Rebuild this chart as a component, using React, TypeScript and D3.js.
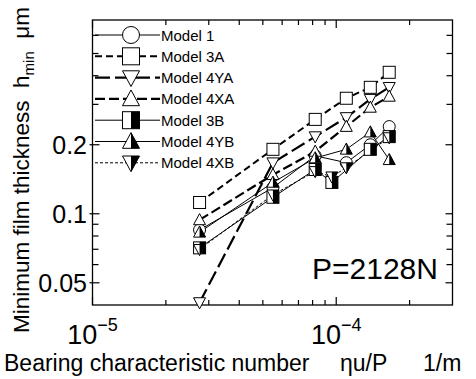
import React, { useRef, useEffect } from "react";
import * as d3 from "d3";

// bearing characteristic number columns (1/m)
const c1 = 2.75e-5;
const c2 = 5.5e-5;
const c3 = 8.2e-5;
const c4a = 9.6e-5;
const c4b = 1.1e-4;
const c5 = 1.38e-4;
const c6 = 1.65e-4;

const model1X = [c1, c2, c3, c4b, c5, c6];
const model1Y = [0.085, 0.13, 0.179, 0.167, 0.2, 0.24];

const model3AX = [c1, c2, c3, c4b, c5, c6];
const model3AY = [0.112, 0.191, 0.258, 0.319, 0.356, 0.414];

const model4YAX = [c1, c2, c3, c4b, c5, c6];
const model4YAY = [0.041, 0.167, 0.217, 0.263, 0.316, 0.356];

const model4XAX = [c1, c2, c3, c4b, c5, c6];
const model4XAY = [0.094, 0.148, 0.187, 0.24, 0.291, 0.325];

const model3BX = [c1, c2, c3, c4a, c5, c6];
const model3BY = [0.071, 0.118, 0.156, 0.137, 0.191, 0.217];

const model4YBX = [c1, c2, c3, c4b, c5, c6];
const model4YBY = [0.083, 0.137, 0.175, 0.191, 0.227, 0.172];

const model4XBX = [c1, c2, c3, c4a, c4b, c6];
const model4XBY = [0.07, 0.121, 0.153, 0.145, 0.159, 0.215];

const yMajorTicks = [0.05, 0.1, 0.2];
const yMinorTicks = [0.06, 0.07, 0.08, 0.09, 0.3, 0.4, 0.5, 0.6];
const xMajorTicks = [1e-5, 1e-4];
const xMajorLabels = ["\u22125", "\u22124"];
const xMinorTicks = [2e-5, 3e-5, 4e-5, 5e-5, 6e-5, 7e-5, 8e-5, 9e-5, 2e-4];

type Marker = "circle" | "square" | "tdown" | "tup" | "squareHalf" | "tupHalf" | "tdownHalf";

const series: { name: string; xs: number[]; ys: number[]; marker: Marker; width: number; dash: string }[] = [
  { name: "Model 1", xs: model1X, ys: model1Y, marker: "circle", width: 1, dash: "" },
  { name: "Model 3A", xs: model3AX, ys: model3AY, marker: "square", width: 2, dash: "7,4" },
  { name: "Model 4YA", xs: model4YAX, ys: model4YAY, marker: "tdown", width: 2.2, dash: "15,5" },
  { name: "Model 4XA", xs: model4XAX, ys: model4XAY, marker: "tup", width: 2.2, dash: "10,4" },
  { name: "Model 3B", xs: model3BX, ys: model3BY, marker: "squareHalf", width: 1, dash: "" },
  { name: "Model 4YB", xs: model4YBX, ys: model4YBY, marker: "tupHalf", width: 1, dash: "" },
  { name: "Model 4XB", xs: model4XBX, ys: model4XBY, marker: "tdownHalf", width: 1, dash: "3,2" },
];

const FONT = "'Liberation Sans', Arial, sans-serif";

function drawMarker(g: d3.Selection<SVGGElement, unknown, null, undefined>, kind: Marker, x: number, y: number, s: number) {
  const m = g.append("g").attr("transform", `translate(${x},${y})`);
  const h = s / 2;
  const sw = 1;
  if (kind === "circle") {
    m.append("circle").attr("r", h).attr("fill", "#fff").attr("stroke", "#000").attr("stroke-width", sw);
  } else if (kind === "square" || kind === "squareHalf") {
    m.append("rect").attr("x", -h).attr("y", -h).attr("width", s).attr("height", s)
      .attr("fill", "#fff").attr("stroke", "#000").attr("stroke-width", sw);
    if (kind === "squareHalf") {
      m.append("rect").attr("x", 0).attr("y", -h).attr("width", h).attr("height", s).attr("fill", "#000");
    }
  } else if (kind === "tup" || kind === "tupHalf") {
    const top = -h * 1.05;
    const bot = h * 0.8;
    m.append("path").attr("d", `M0,${top}L${h},${bot}L${-h},${bot}Z`)
      .attr("fill", "#fff").attr("stroke", "#000").attr("stroke-width", sw);
    if (kind === "tupHalf") {
      m.append("path").attr("d", `M0,${top}L${h},${bot}L0,${bot}Z`).attr("fill", "#000");
    }
  } else {
    const top = -h * 0.8;
    const bot = h * 1.05;
    m.append("path").attr("d", `M${-h},${top}L${h},${top}L0,${bot}Z`)
      .attr("fill", "#fff").attr("stroke", "#000").attr("stroke-width", sw);
    if (kind === "tdownHalf") {
      m.append("path").attr("d", `M0,${top}L${h},${top}L0,${bot}Z`).attr("fill", "#000");
    }
  }
}

export default function App() {
  const svgRef = useRef<SVGSVGElement>(null);

  useEffect(() => {
    if (!svgRef.current) return;
    const svg = d3.select(svgRef.current);
    svg.selectAll("*").remove();

    const left = 92.5, right = 452.5, top = 20, bottom = 305;

    const x = d3.scaleLog().domain([1e-5, 3e-4]).range([left, right]);
    const y = d3.scaleLog().domain([0.04, 0.7]).range([bottom, top]);

    const g = svg.append("g") as d3.Selection<SVGGElement, unknown, null, undefined>;

    // ticks (inward, mirrored on all sides)
    const tickLine = (x1: number, y1: number, x2: number, y2: number) =>
      g.append("line").attr("x1", x1).attr("y1", y1).attr("x2", x2).attr("y2", y2)
        .attr("stroke", "#000").attr("stroke-width", 1.2);

    yMajorTicks.forEach(v => {
      const yy = y(v);
      tickLine(left - 3, yy, left + 7, yy);
      tickLine(right - 7, yy, right, yy);
    });
    yMinorTicks.forEach(v => {
      const yy = y(v);
      tickLine(left, yy, left + 6, yy);
      tickLine(right - 6, yy, right, yy);
    });
    xMajorTicks.forEach(v => {
      const xx = x(v);
      tickLine(xx, bottom, xx, bottom - 8);
      tickLine(xx, top, xx, top + 8);
    });
    xMinorTicks.forEach(v => {
      const xx = x(v);
      tickLine(xx, bottom, xx, bottom - 5);
      tickLine(xx, top, xx, top + 5);
    });

    // frame
    g.append("rect").attr("x", left).attr("y", top).attr("width", right - left).attr("height", bottom - top)
      .attr("fill", "none").attr("stroke", "#000").attr("stroke-width", 1.3);

    // y tick labels
    yMajorTicks.forEach(v => {
      g.append("text").attr("x", left - 5.5).attr("y", y(v)).attr("dy", "0.36em")
        .attr("text-anchor", "end").style("font-family", FONT).style("font-size", "25px")
        .text(String(v));
    });

    // x tick labels
    xMajorTicks.forEach((v, i) => {
      const t = g.append("text").attr("x", x(v)).attr("y", 344).attr("text-anchor", "middle")
        .style("font-family", FONT).style("font-size", "27px");
      t.append("tspan").text("10");
      t.append("tspan").attr("dy", -13).style("font-size", "18px").text(xMajorLabels[i]);
    });

    // axis labels
    const xlStyle = (sel: d3.Selection<SVGTextElement, unknown, null, undefined>) =>
      sel.style("font-family", FONT).style("font-size", "23px");
    xlStyle(g.append("text").attr("x", 4).attr("y", 371).text("Bearing characteristic number"));
    xlStyle(g.append("text").attr("x", 340).attr("y", 371).text("\u03b7u/P"));
    xlStyle(g.append("text").attr("x", 423).attr("y", 371).text("1/m"));

    const yl = g.append("text").attr("transform", "translate(29,170) rotate(-90)")
      .attr("text-anchor", "middle").style("font-family", FONT).style("font-size", "22.5px")
      .style("white-space", "pre");
    yl.append("tspan").text("Minimum film thickness  h");
    yl.append("tspan").attr("dy", 5).style("font-size", "15px").text("min");
    yl.append("tspan").attr("dy", -5).text("  \u03bcm");

    // P label
    g.append("text").attr("x", 312).attr("y", 279).style("font-family", FONT).style("font-size", "30px")
      .text("P=2128N");

    // series lines
    series.forEach(s => {
      const pts = s.xs.map((xv, i) => [x(xv), y(s.ys[i])] as [number, number]);
      g.append("path").attr("d", d3.line()(pts))
        .attr("fill", "none").attr("stroke", "#000").attr("stroke-width", s.width)
        .attr("stroke-dasharray", s.dash || null);
    });
    // series markers
    series.forEach(s => {
      s.xs.forEach((xv, i) => drawMarker(g, s.marker, x(xv), y(s.ys[i]), 12));
    });

    // legend
    series.forEach((s, i) => {
      const ly = 35 + i * 21.3;
      g.append("line").attr("x1", 95).attr("x2", 160).attr("y1", ly).attr("y2", ly)
        .attr("stroke", "#000").attr("stroke-width", s.width).attr("stroke-dasharray", s.dash || null);
      drawMarker(g, s.marker, 131, ly, 17);
      g.append("text").attr("x", 161).attr("y", ly + 5.5).style("font-family", FONT).style("font-size", "15px")
        .text(s.name);
    });
  }, []);

  return (
    <svg ref={svgRef} width={476} height={379}
      style={{ position: "absolute", left: 0, top: 0, background: "#fff" }} />
  );
}
